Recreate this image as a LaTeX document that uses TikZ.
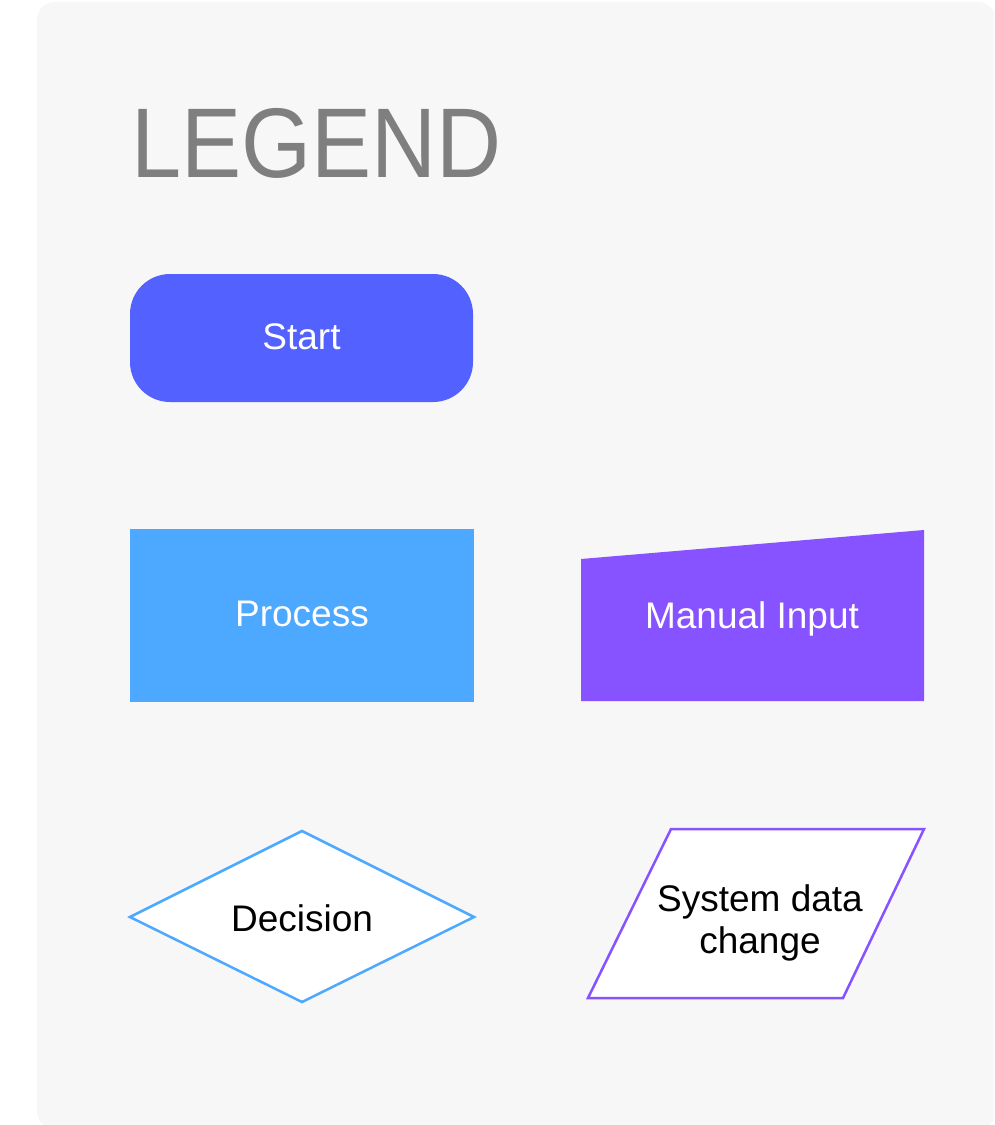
\documentclass[tikz,border=0pt]{standalone}
\usepackage{fontspec}
\setmainfont{Liberation Sans}
\definecolor{panelbg}{HTML}{F7F7F7}
\definecolor{startblue}{HTML}{5361FF}
\definecolor{procblue}{HTML}{4DA8FF}
\definecolor{manpurple}{HTML}{8752FF}
\definecolor{titlegray}{HTML}{7F7F7F}
\begin{document}
\begin{tikzpicture}[x=1pt,y=-1pt,
  lbl/.style={inner sep=0pt, align=center, font=\fontsize{37}{42}\selectfont},
  wlbl/.style={lbl, text=white},
  blbl/.style={lbl, text=black},
  outl/.style={line width=2.5pt, fill=white, line join=miter}]
\useasboundingbox (0,0) rectangle (994,1125);
\begin{scope}
\clip (0,0) rectangle (994,1125);
\fill[white] (0,0) rectangle (994,1125);
\fill[panelbg, rounded corners=18pt] (37,2) rectangle (996,1129);
\end{scope}
% title
\node[anchor=base west, inner sep=0pt, text=titlegray, font=\fontsize{99}{110}\selectfont] (title) at (131,177) {\scalebox{0.91}[1]{LEGEND}};
% start
\fill[startblue, rounded corners=40pt] (130,274) rectangle (473,402);
\node[wlbl] (start) at (301.5,337) {Start};
% process
\fill[procblue] (130,529) rectangle (474,702);
\node[wlbl] (process) at (302,614) {Process};
% manual input
\fill[manpurple] (581,559) -- (924,530) -- (924,701) -- (581,701) -- cycle;
\node[wlbl] (manual) at (752,619) {Manual Input};
% decision
\draw[outl, draw=procblue] (130,917) -- (302,831) -- (474,917) -- (302,1002) -- cycle;
\node[blbl] (decision) at (302,918) {Decision};
% system data change
\draw[outl, draw=manpurple] (671,829) -- (924,829) -- (843,998) -- (588,998) -- cycle;
\node[blbl] (sysdata) at (760,923) {System data\\change};
\end{tikzpicture}
\end{document}
